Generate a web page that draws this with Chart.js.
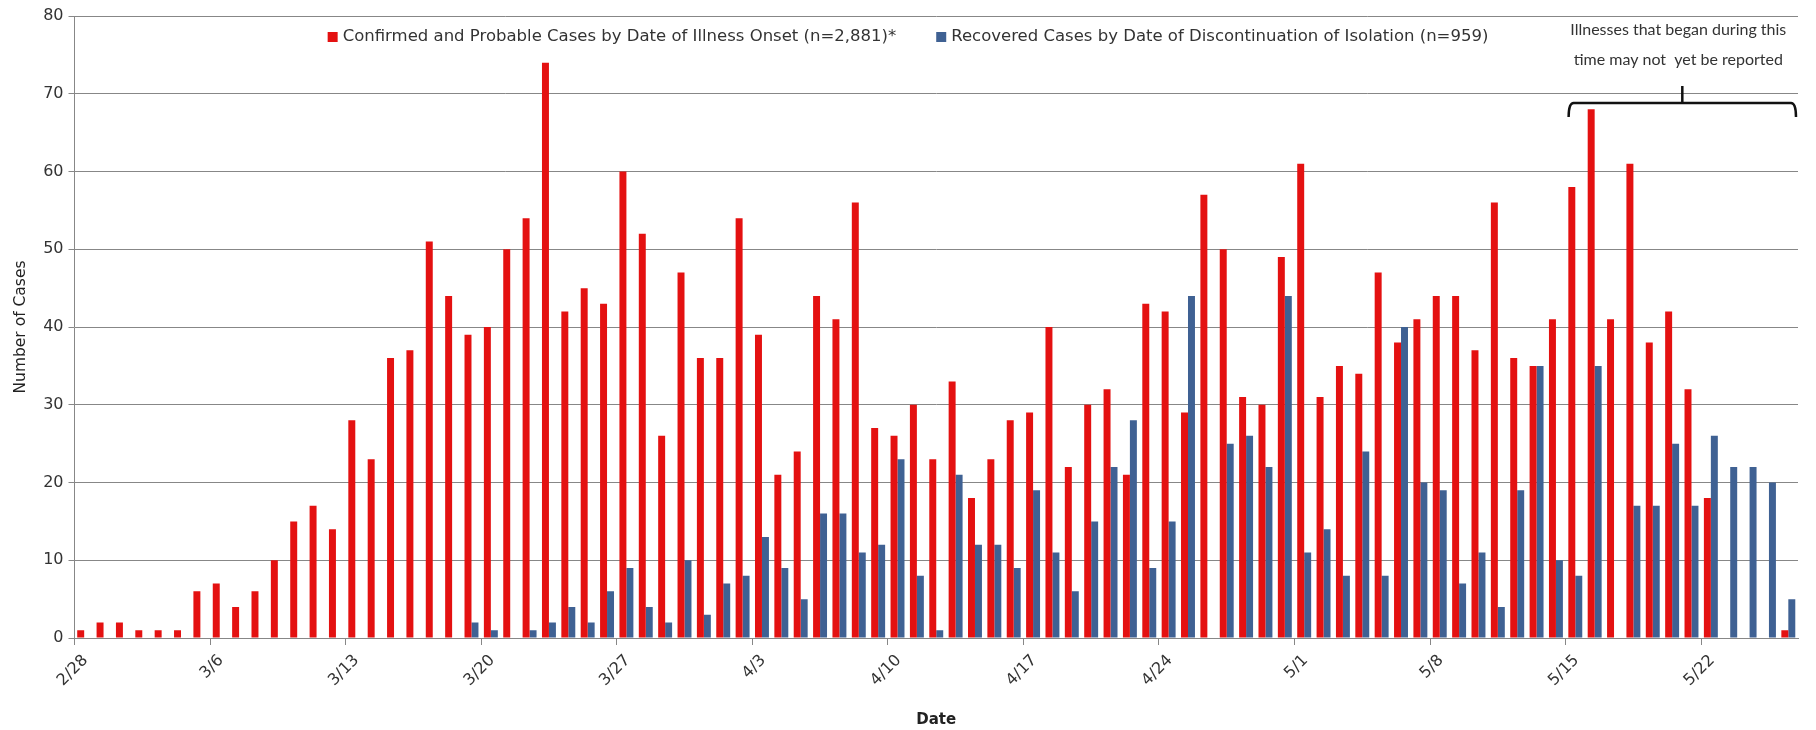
<!DOCTYPE html>
<html>
<head>
<meta charset="utf-8">
<script src="https://cdn.jsdelivr.net/npm/chart.js@4.4.0/dist/chart.umd.min.js"></script>
<style>
    html, body { margin: 0; padding: 0; background: #fff; }
</style>
</head>
<body>
<canvas id="GraficoCasos" width="1816" height="730"></canvas>
<script>
/*Dados do gráfico*/
var datas = ['2/28', '2/29',
    '3/1', '3/2', '3/3', '3/4', '3/5', '3/6', '3/7', '3/8', '3/9', '3/10', '3/11', '3/12', '3/13', '3/14', '3/15', '3/16',
    '3/17', '3/18', '3/19', '3/20', '3/21', '3/22', '3/23', '3/24', '3/25', '3/26', '3/27', '3/28', '3/29', '3/30', '3/31',
    '4/1', '4/2', '4/3', '4/4', '4/5', '4/6', '4/7', '4/8', '4/9', '4/10', '4/11', '4/12', '4/13', '4/14', '4/15', '4/16',
    '4/17', '4/18', '4/19', '4/20', '4/21', '4/22', '4/23', '4/24', '4/25', '4/26', '4/27', '4/28', '4/29', '4/30',
    '5/1', '5/2', '5/3', '5/4', '5/5', '5/6', '5/7', '5/8', '5/9', '5/10', '5/11', '5/12', '5/13', '5/14', '5/15', '5/16',
    '5/17', '5/18', '5/19', '5/20', '5/21', '5/22', '5/23', '5/24', '5/25', '5/26'];

var casosConfirmados = [1, 2, 2, 1, 1, 1, 6,
    7, 4, 6, 10, 15, 17, 14,
    28, 23, 36, 37, 51, 44, 39,
    40, 50, 54, 74, 42, 45, 43,
    60, 52, 26, 47, 36, 36, 54,
    39, 21, 24, 44, 41, 56, 27,
    26, 30, 23, 33, 18, 23, 28,
    29, 40, 22, 30, 32, 21, 43,
    42, 29, 57, 50, 31, 30, 49,
    61, 31, 35, 34, 47, 38, 41,
    44, 44, 37, 56, 36, 35, 41,
    58, 68, 41, 61, 38, 42, 32,
    18, 0, 0, 0, 1];

var casosRecuperados = [0, 0, 0, 0, 0, 0, 0,
    0, 0, 0, 0, 0, 0, 0,
    0, 0, 0, 0, 0, 0, 2,
    1, 0, 1, 2, 4, 2, 6,
    9, 4, 2, 10, 3, 7, 8,
    13, 9, 5, 16, 16, 11, 12,
    23, 8, 1, 21, 12, 12, 9,
    19, 11, 6, 15, 22, 28, 9,
    15, 44, 0, 25, 26, 22, 44,
    11, 14, 8, 24, 8, 40, 20,
    19, 7, 11, 4, 19, 35, 10,
    8, 35, 0, 17, 17, 25, 17,
    26, 22, 22, 20, 5];

var legendas = ['Confirmed and Probable Cases by Date of Illness Onset (n=2,881)*',
    'Recovered Cases by Date of Discontinuation of Isolation (n=959)'];
var ticksY = [0, 10, 20, 30, 40, 50, 60, 70, 80];
var notaTexto = ['Illnesses that began during this', 'time may not  yet be reported'];
var notaInicio = '5/15';

var cinza = '#878787';
var fonte = '"DejaVu Sans", Verdana, sans-serif';

/*Legenda dentro da área do gráfico*/
var legendaInterna = {
    id: 'legendaInterna',
    afterDraw: function (chart) {
        var c = chart.ctx;
        c.save();
        c.font = '16.5px ' + fonte;
        c.textBaseline = 'middle';
        var caixa = 10, folga = 5, espaco = 40;
        var itens = chart.data.datasets.map(function (d) {
            return { texto: d.label, cor: d.backgroundColor, largura: c.measureText(d.label).width };
        });
        var total = 0;
        itens.forEach(function (it, i) {
            total += caixa + folga + it.largura + (i > 0 ? espaco : 0);
        });
        var x = chart.width / 2 - total / 2;
        var y = 37;
        itens.forEach(function (it) {
            c.fillStyle = it.cor;
            c.fillRect(x, y - caixa / 2, caixa, caixa);
            c.fillStyle = '#333';
            c.fillText(it.texto, x + caixa + folga, y);
            x += caixa + folga + it.largura + espaco;
        });
        c.restore();
    }
};

/*Colchete com a nota no fim do período*/
var notaColchete = {
    id: 'notaColchete',
    afterDraw: function (chart) {
        var sx = chart.scales.x, sy = chart.scales.y;
        var meia = (sx.getPixelForValue(1) - sx.getPixelForValue(0)) / 2;
        var inicio = sx.getPixelForValue(datas.indexOf(notaInicio)) - meia + 3;
        var fim = sx.getPixelForValue(datas.length - 1) + meia - 2;
        var meio = (inicio + fim) / 2;
        var yLinha = sy.getPixelForValue(68.8);
        var yPonta = sy.getPixelForValue(67.0);
        var yHaste = sy.getPixelForValue(71.0);
        var c = chart.ctx;
        c.save();
        c.strokeStyle = '#111';
        c.lineWidth = 2.5;
        c.beginPath();
        c.moveTo(inicio, yPonta);
        c.quadraticCurveTo(inicio, yLinha, inicio + 5, yLinha);
        c.lineTo(fim - 5, yLinha);
        c.quadraticCurveTo(fim, yLinha, fim, yPonta);
        c.moveTo(meio, yLinha);
        c.lineTo(meio, yHaste);
        c.stroke();
        c.font = '16px Lato, "Open Sans", sans-serif';
        c.fillStyle = '#333';
        c.textAlign = 'center';
        c.textBaseline = 'middle';
        c.fillText(notaTexto[0], meio - 4, sy.getPixelForValue(78.2));
        c.fillText(notaTexto[1], meio - 4, sy.getPixelForValue(74.3));
        c.restore();
    }
};

/*Construção do gráfico*/
var ctx = document.getElementById('GraficoCasos').getContext('2d');

var grafico = new Chart(ctx, {
    type: 'bar',

    data: {
        labels: datas,
        datasets: [{
            label: legendas[0],
            backgroundColor: '#E41111',
            data: casosConfirmados,
            barPercentage: 1,
            categoryPercentage: 0.72
        }, {
            label: legendas[1],
            backgroundColor: '#3F6193',
            data: casosRecuperados,
            barPercentage: 1,
            categoryPercentage: 0.72
        }]
    },
    options: {
        responsive: false,
        animation: false,
        devicePixelRatio: 1,
        layout: { padding: { left: 8, right: 18, top: 16, bottom: 0 } },
        plugins: {
            legend: { display: false },
            tooltip: { enabled: false }
        },
        scales: {
            x: {
                offset: true,
                grid: {
                    offset: true,
                    drawOnChartArea: false,
                    drawTicks: true,
                    tickLength: 7,
                    color: function (c) { return c.index % 7 === 0 ? cinza : 'rgba(0,0,0,0)'; }
                },
                border: { color: cinza, width: 1 },
                ticks: {
                    autoSkip: false,
                    minRotation: 45,
                    maxRotation: 45,
                    labelOffset: 1.3,
                    padding: 6,
                    color: '#333',
                    font: { family: fonte, size: 16 },
                    callback: function (v, i) { return i % 7 === 0 ? datas[i] : ''; }
                },
                title: {
                    display: true,
                    text: 'Date',
                    color: '#222',
                    font: { family: fonte, size: 15, weight: 'bold' },
                    padding: { top: 2, bottom: 1 }
                },
                afterFit: function (s) { s.height = 92; }
            },
            y: {
                min: ticksY[0],
                max: ticksY[ticksY.length - 1],
                afterBuildTicks: function (s) {
                    s.ticks = ticksY.map(function (v) { return { value: v }; });
                },
                grid: { color: cinza, tickLength: 6 },
                border: { color: cinza, width: 1 },
                ticks: {
                    padding: 5,
                    color: '#333',
                    font: { family: fonte, size: 16 }
                },
                title: {
                    display: true,
                    text: 'Number of Cases',
                    color: '#222',
                    font: { family: fonte, size: 15.5 },
                    padding: { top: 4, bottom: 4 }
                },
                afterFit: function (s) { s.width = 66.5; }
            }
        }
    },
    plugins: [legendaInterna, notaColchete]
});
</script>
</body>
</html>
